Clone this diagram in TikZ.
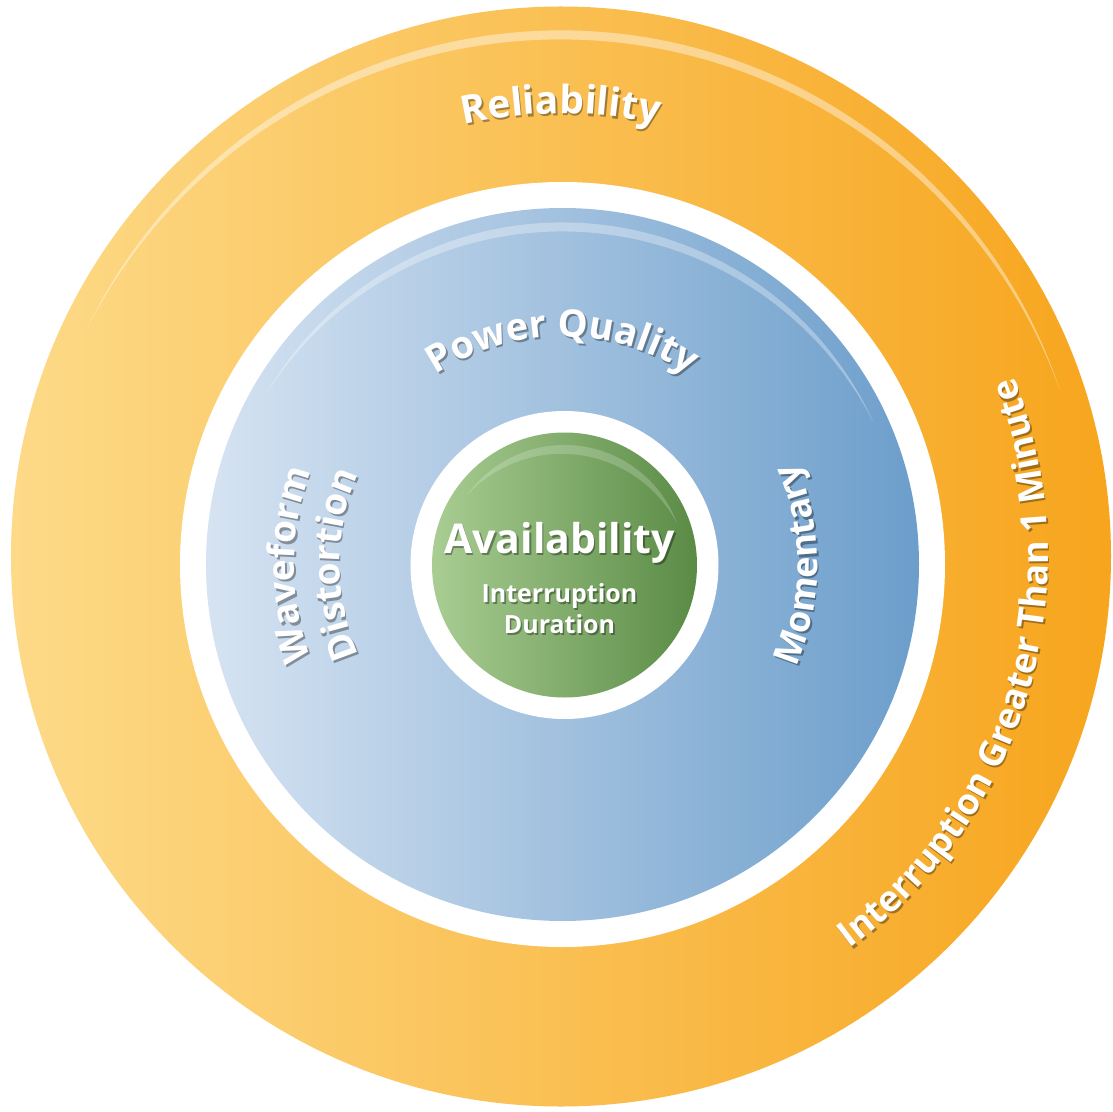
\documentclass[tikz,border=0pt]{standalone}
\usepackage{fontspec}
\setsansfont{Open Sans}
\usetikzlibrary{decorations.text}
\definecolor{orL}{HTML}{FDDA88}
\definecolor{orR}{HTML}{F7A51D}
\definecolor{blL}{HTML}{D6E3F2}
\definecolor{blR}{HTML}{6C9ECB}
\definecolor{grL}{HTML}{A9CD93}
\definecolor{grR}{HTML}{5A8B45}
\newcommand\fRel{\sffamily\bfseries\fontsize{39}{39}\selectfont}
\newcommand\fPQ{\sffamily\bfseries\fontsize{38}{38}\selectfont}
\newcommand\fSide{\sffamily\bfseries\fontsize{37}{37}\selectfont}
\newcommand\fRing{\sffamily\bfseries\fontsize{36}{36}\selectfont}
\newcommand\fAv{\sffamily\bfseries\fontsize{41}{41}\selectfont}
\newcommand\fSub{\sffamily\bfseries\fontsize{25}{31}\selectfont}
% gloss crescent: #1 outer radius, #2 thickness, #3 half angle, #4 opacity
\newcommand\glosscrescent[4]{%
  \pgfmathsetmacro\crD{#2*(2*#1-#2)/(2*(#1-#2-#1*cos(#3)))}%
  \pgfmathsetmacro\crRho{#1-#2+\crD}%
  \pgfmathsetmacro\crAng{atan2(#1*cos(#3)+\crD,#1*sin(#3))}%
  \pgfmathsetmacro\crAngB{180-\crAng}%
  \pgfmathsetmacro\crS{90-#3}%
  \pgfmathsetmacro\crE{90+#3}%
  \fill[white,opacity=#4] (\crS:#1) arc[start angle=\crS,end angle=\crE,radius=#1]
    arc[start angle=\crAngB,end angle=\crAng,radius=\crRho] -- cycle;}
% text on arc with shadow: #1 centre, #2 font, #3 text, #4 start, #5 end, #6 radius
\newcommand\arctext[6]{%
  \begin{scope}[shift={(#1)}]
    \begin{scope}[shift={(1.6,-2.2)},opacity=0.35]
      \path[decorate,decoration={text along path,text={|#2|#3},text align=center,text color=black}]
        (#4:#6) arc[start angle=#4,end angle=#5,radius=#6];
    \end{scope}
    \path[decorate,decoration={text along path,text={|#2|#3},text align=center,text color=white}]
      (#4:#6) arc[start angle=#4,end angle=#5,radius=#6];
  \end{scope}}
\begin{document}
\begin{tikzpicture}[x=1pt,y=1pt,
  subtext/.style={text=white,font=\fSub,anchor=base},
  shadowtext/.style={text=black,opacity=0.35,anchor=base}]
\useasboundingbox (-561,-554.5) rectangle (552,556.5);
\fill[white] (-561,-554.5) rectangle (552,556.5);
% outer ring
\shade[left color=orL,right color=orR] (0,0) circle (550);
\begin{scope}[rotate=-3.5]\glosscrescent{526}{9}{68}{0.42}\end{scope}
\arctext{0,0}{\fRel}{Reliability}{150}{30}{443}
\arctext{0,0}{\fRing}{Interruption Greater Than 1 Minute}{-76}{44}{487}
% middle disk
\fill[white] (1.5,-8) circle (382.5);
\shade[left color=blL,right color=blR] (1.5,-8) circle (356.5);
\begin{scope}[shift={(1.5,-8)},rotate=-2.5]\glosscrescent{342}{9}{63}{0.32}\end{scope}
\arctext{1.5,-8}{\fPQ}{Power Quality}{150}{30}{228}
\arctext{1.5,-8}{\fSide}{Waveform}{240}{120}{268}
\arctext{1.5,-8}{\fSide}{Distortion}{240}{120}{223}
\arctext{1.5,-8}{\fRing}{Momentary}{-60}{60}{255}
% centre disk
\fill[white] (3.5,-8.5) circle (154);
\shade[left color=grL,right color=grR] (3.5,-8.5) circle (132.5);
\begin{scope}[shift={(3.5,-8.5)},rotate=-8]\glosscrescent{120}{9}{62}{0.2}\end{scope}
\node[shadowtext,font=\fAv] (avsh) at (0.1,1.3) {Availability};
\node[text=white,font=\fAv,anchor=base] (avail) at (-1.5,3.5) {Availability};
\node[shadowtext,font=\fSub] (intsh) at (0.1,-48.2) {Interruption};
\node[subtext] (interr) at (-1.5,-46) {Interruption};
\node[shadowtext,font=\fSub] (dursh) at (0.1,-79.2) {Duration};
\node[subtext] (dur) at (-1.5,-77) {Duration};
\end{tikzpicture}
\end{document}
